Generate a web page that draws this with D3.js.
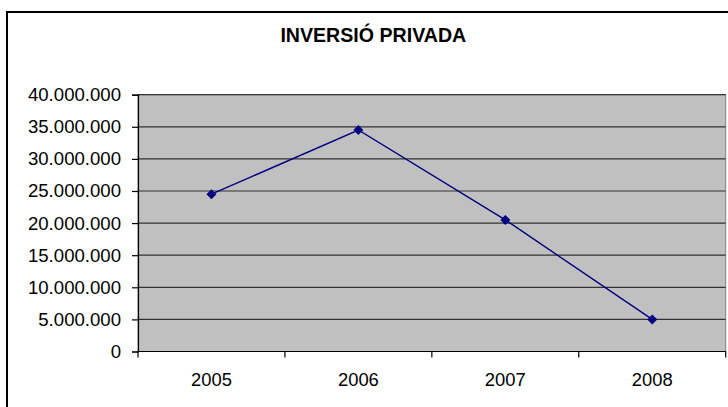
<!DOCTYPE html>
<html>
<head>
<meta charset="utf-8">
<script src="https://cdn.jsdelivr.net/npm/d3@7"></script>
<style>
  body { margin: 0; background: #fff; }
  svg { display: block; font-family: "Liberation Sans", Arial, sans-serif; }
</style>
</head>
<body>
<div id="chart"></div>
<script>
// data
var years = ["2005", "2006", "2007", "2008"];
var values = [24500000, 34500000, 20500000, 5000000];
var yTicks = [0, 5000000, 10000000, 15000000, 20000000, 25000000, 30000000, 35000000, 40000000];
var title = "INVERSIÓ PRIVADA";

var W = 728, H = 407;
var margin = {top: 94.7, right: 2.3, bottom: 55.5, left: 138};
var width = W - margin.left - margin.right,
    height = H - margin.top - margin.bottom;

var svg = d3.select("#chart").append("svg")
    .attr("width", W)
    .attr("height", H);

// outer chart border (runs off the right and bottom edges)
svg.append("rect")
    .attr("x", 7).attr("y", 12)
    .attr("width", W + 10).attr("height", H + 10)
    .attr("fill", "#fff")
    .attr("stroke", "#000")
    .attr("stroke-width", 2);

svg.append("text")
    .attr("x", 373.3).attr("y", 42.3)
    .attr("text-anchor", "middle")
    .attr("font-size", 19.6)
    .attr("font-weight", "bold")
    .text(title);

var g = svg.append("g")
    .attr("transform", "translate(" + margin.left + "," + margin.top + ")");

var x = d3.scaleBand().domain(years).range([0, width]).padding(0);
var y = d3.scaleLinear().domain([0, 40000000]).range([height, 0]);

// plot area
g.append("rect")
    .attr("width", width).attr("height", height)
    .attr("fill", "#c0c0c0")
    .attr("stroke", "#808080")
    .attr("stroke-width", 1);

// gridlines
g.selectAll("line.grid")
    .data(yTicks.filter(function(d) { return d > 0; }))
    .enter().append("line")
    .attr("class", "grid")
    .attr("x1", 0).attr("x2", width)
    .attr("y1", function(d) { return y(d); })
    .attr("y2", function(d) { return y(d); })
    .attr("stroke", "#333")
    .attr("stroke-width", 1.2);

function fmt(d) {
    return d3.format(",")(d).replace(/,/g, ".");
}

// y axis
var yAxis = g.append("g")
    .call(d3.axisLeft(y).tickValues(yTicks).tickFormat(fmt).tickSize(6).tickPadding(11));
yAxis.select(".domain").attr("stroke", "#000").attr("stroke-width", 1.2);
yAxis.selectAll(".tick line").attr("stroke", "#000").attr("stroke-width", 1.2);
yAxis.selectAll("text")
    .attr("font-family", "Liberation Sans, Arial, sans-serif")
    .attr("font-size", 18.6)
    .attr("fill", "#000");

// x axis: ticks at category boundaries
var xg = g.append("g").attr("transform", "translate(0," + height + ")");
xg.append("line")
    .attr("x1", 0).attr("x2", width)
    .attr("stroke", "#000").attr("stroke-width", 1.2);
var bounds = years.map(function(d) { return x(d); }).concat([width]);
xg.selectAll("line.tick")
    .data(bounds)
    .enter().append("line")
    .attr("class", "tick")
    .attr("x1", function(d) { return d; })
    .attr("x2", function(d) { return d; })
    .attr("y1", 0).attr("y2", 6)
    .attr("stroke", "#000").attr("stroke-width", 1.2);
xg.selectAll("text")
    .data(years)
    .enter().append("text")
    .attr("x", function(d) { return x(d) + x.bandwidth() / 2; })
    .attr("y", 34.5)
    .attr("text-anchor", "middle")
    .attr("font-size", 18.4)
    .text(function(d) { return d; });

// series line
var pts = years.map(function(d, i) { return [x(d) + x.bandwidth() / 2, y(values[i])]; });
g.append("path")
    .attr("d", d3.line()(pts))
    .attr("fill", "none")
    .attr("stroke", "#000080")
    .attr("stroke-width", 1.4);

// diamond markers
g.selectAll("path.marker")
    .data(pts)
    .enter().append("path")
    .attr("class", "marker")
    .attr("d", "M0,-5L5,0L0,5L-5,0Z")
    .attr("transform", function(d) { return "translate(" + d[0] + "," + d[1] + ")"; })
    .attr("fill", "#000080");
</script>
</body>
</html>
